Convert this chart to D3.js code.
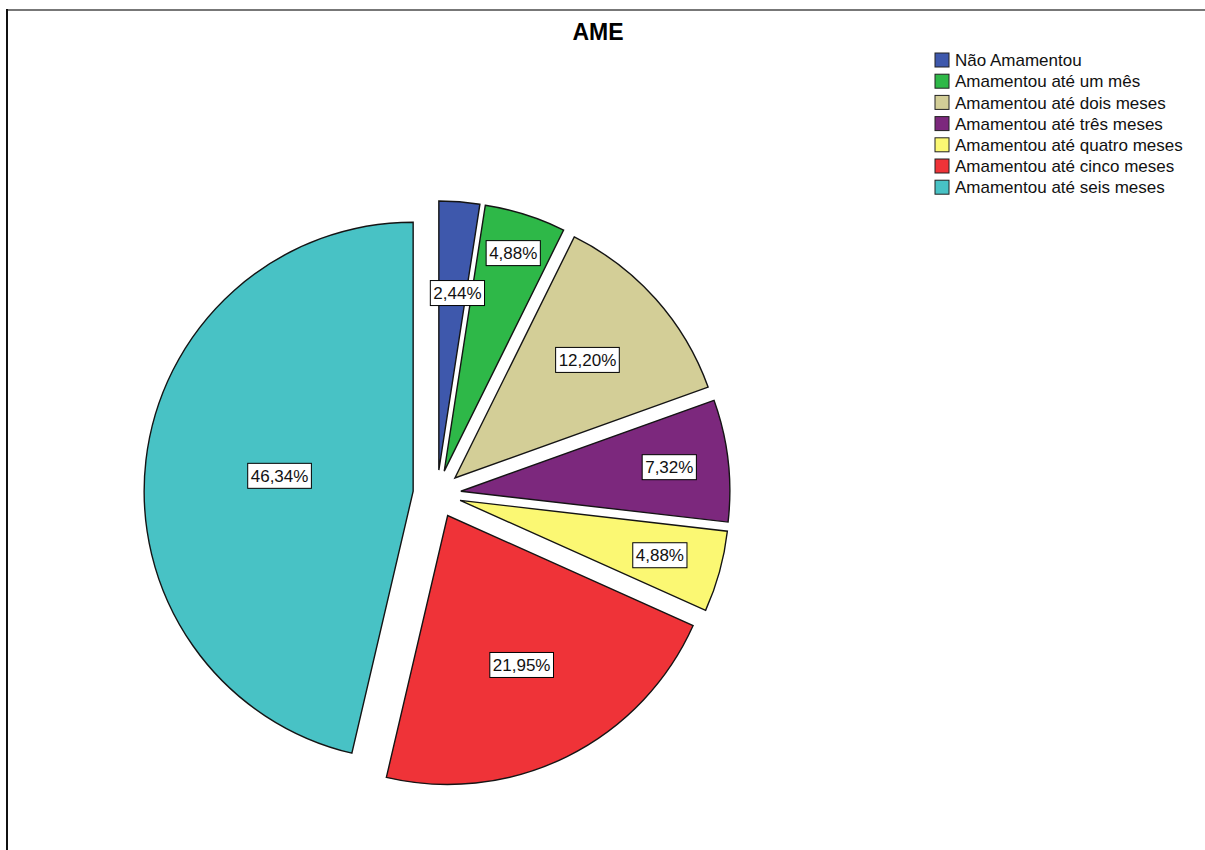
<!DOCTYPE html>
<html>
<head>
    <title>AME</title>
    <script src="https://cdn.jsdelivr.net/npm/d3@7"></script>
    <style>
        body { margin: 0; background: #fff; }
        text { font-family: Arial, "Liberation Sans", sans-serif; }
    </style>
</head>
<body>
<script>
    // AME - tempo de amamentação (n = 41)
    const categories = [
        'Não Amamentou',
        'Amamentou até um mês',
        'Amamentou até dois meses',
        'Amamentou até três meses',
        'Amamentou até quatro meses',
        'Amamentou até cinco meses',
        'Amamentou até seis meses'
    ];
    const counts = [1, 2, 5, 3, 2, 9, 19];
    const percentLabels = ['2,44%', '4,88%', '12,20%', '7,32%', '4,88%', '21,95%', '46,34%'];
    const colors = ['#3e58ac', '#2eb848', '#d3ce97', '#7c287d', '#fbf873', '#ef3338', '#48c2c5'];

    const width = 1205;
    const height = 850;
    const cx = 437, cy = 494;
    const radius = 269;
    const explode = 24;
    // how far out (fraction of radius) each label sits
    const labelPos = [0.66, 0.85, 0.66, 0.78, 0.77, 0.62, 0.5];

    const svg = d3.select('body')
        .append('svg')
        .attr('width', width)
        .attr('height', height);

    // frame
    svg.append('line')
        .attr('x1', 6).attr('x2', width).attr('y1', 10).attr('y2', 10)
        .attr('stroke', '#777').attr('stroke-width', 2);
    svg.append('line')
        .attr('x1', 7).attr('x2', 7).attr('y1', 9).attr('y2', height)
        .attr('stroke', '#111').attr('stroke-width', 2);

    svg.append('text')
        .attr('x', 598)
        .attr('y', 40)
        .attr('text-anchor', 'middle')
        .attr('font-weight', 'bold')
        .attr('font-size', 23)
        .text('AME');

    const pie = d3.pie().sort(null).value(d => d)(counts);
    const arc = d3.arc().innerRadius(0).outerRadius(radius);

    const g = svg.append('g').attr('transform', `translate(${cx},${cy})`);

    function offset(d) {
        const a = (d.startAngle + d.endAngle) / 2;
        return [Math.sin(a) * explode, -Math.cos(a) * explode];
    }

    g.append('g').selectAll('path')
        .data(pie)
        .join('path')
        .attr('transform', d => `translate(${offset(d)})`)
        .attr('d', arc)
        .attr('fill', (d, i) => colors[i])
        .attr('stroke', '#141414')
        .attr('stroke-width', 1.4);

    // labels on top of every slice
    const labels = g.append('g').selectAll('g')
        .data(pie)
        .join('g')
        .attr('transform', (d, i) => {
            const a = (d.startAngle + d.endAngle) / 2;
            const r = radius * labelPos[i];
            const o = offset(d);
            return `translate(${o[0] + Math.sin(a) * r + (i === 0 ? 5 : 0)},${o[1] - Math.cos(a) * r})`;
        });

    labels.each(function (d, i) {
        const lg = d3.select(this);
        const rect = lg.append('rect')
            .attr('fill', '#fff')
            .attr('stroke', '#000')
            .attr('stroke-width', 1);
        const t = lg.append('text')
            .attr('text-anchor', 'middle')
            .attr('dy', '0.36em')
            .attr('font-size', 17)
            .attr('fill', '#111')
            .text(percentLabels[i]);
        const bb = t.node().getBBox();
        rect.attr('x', bb.x - 3).attr('y', -12.5)
            .attr('width', bb.width + 6).attr('height', 25);
    });

    // legend
    const legend = svg.append('g').attr('transform', 'translate(935,53)');
    const rows = legend.selectAll('g')
        .data(categories)
        .join('g')
        .attr('transform', (d, i) => `translate(0,${i * 21.2})`);
    rows.append('rect')
        .attr('width', 14).attr('height', 14)
        .attr('fill', (d, i) => colors[i])
        .attr('stroke', '#222').attr('stroke-width', 1);
    rows.append('text')
        .attr('x', 20)
        .attr('y', 7)
        .attr('dy', '0.36em')
        .attr('font-size', 17)
        .attr('fill', '#111')
        .text(d => d);
</script>
</body>
</html>
